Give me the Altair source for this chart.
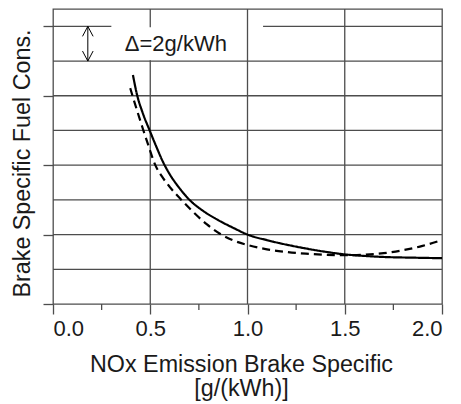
import altair as alt
import pandas as pd

# NOx emission (g/kWh) against brake specific fuel consumption (g/kWh, offset scale)
solid_nox = [0.411, 0.43, 0.46, 0.497, 0.53, 0.565, 0.6, 0.65, 0.7, 0.77, 0.85, 0.93, 1.0,
             1.1, 1.2, 1.3, 1.4, 1.5, 1.6, 1.7, 1.85, 2.0]
solid_bsfc = [13.2, 12.15, 11.05, 10.0, 9.1, 8.2, 7.48, 6.68, 6.02, 5.38, 4.83, 4.37, 4.0,
              3.68, 3.42, 3.2, 3.01, 2.86, 2.77, 2.71, 2.67, 2.64]
dashed_nox = [0.397, 0.41, 0.435, 0.462, 0.49, 0.526, 0.56, 0.6, 0.66, 0.72, 0.79, 0.866, 0.93,
              1.0, 1.1, 1.2, 1.3, 1.4, 1.5, 1.6, 1.7, 1.8, 1.9, 2.0]
dashed_bsfc = [12.44, 11.95, 11.05, 10.1, 9.15, 8.0, 7.35, 6.75, 6.0, 5.31, 4.6, 4.0, 3.65,
               3.4, 3.15, 3.0, 2.9, 2.84, 2.81, 2.84, 2.93, 3.1, 3.35, 3.68]

# grid segments (x from, x to, y from, y to), broken around the annotation
grid_x0 = [0, 0, 0, 0, 0, 0, 0, 0, 1.08, 0.5, 0.5, 1.0, 1.5]
grid_x1 = [2, 2, 2, 2, 2, 2, 2, 0.30, 2, 0.5, 0.5, 1.0, 1.5]
grid_y0 = [2, 4, 6, 8, 10, 12, 14, 16, 16, 0, 15.95, 0, 0]
grid_y1 = [2, 4, 6, 8, 10, 12, 14, 16, 16, 14.05, 17, 17, 17]

x_major = [0.0, 0.5, 1.0, 1.5, 2.0]
x_minor = [0.25, 0.75, 1.25, 1.75]
y_ticks = list(range(0, 17))

# the 2 g/kWh scale bar
bar_x = 0.179
bar_lo, bar_hi = 14, 16
bar_label = "\u0394=2g/kWh"
label_x, label_y = 0.369, 15.0

FONT = "Liberation Sans"
GRID = "#4d4d4d"
INK = "#1a1a1a"
W, H = 389, 295

xs = alt.Scale(domain=[0, 2], nice=False, zero=False)
ys = alt.Scale(domain=[0, 17], nice=False, zero=False)

curves = pd.DataFrame(
    {"nox": solid_nox + dashed_nox,
     "bsfc": solid_bsfc + dashed_bsfc,
     "case": ["solid"] * len(solid_nox) + ["dashed"] * len(dashed_nox)}
)
grid = pd.DataFrame({"x0": grid_x0, "x1": grid_x1, "y0": grid_y0, "y1": grid_y1})

x_axis = alt.Axis(
    values=x_major, format=".1f", grid=False, domain=False,
    tickSize=10, tickColor=GRID, tickWidth=1.3,
    labelFont=FONT, labelFontSize=22, labelColor=INK,
    labelBaseline="alphabetic", labelPadding=21,
    title=["NOx Emission Brake Specific", "[g/(kWh)]"],
    titleFont=FONT, titleFontSize=23.3, titleFontWeight="normal", titleColor=INK,
    titleBaseline="alphabetic", titleX=188, titleY=67.5, titleAlign="center",
    titleLineHeight=24,
)
y_axis = alt.Axis(
    values=y_ticks, labels=False, grid=False, domain=False,
    tickSize=10, tickColor=GRID, tickWidth=1.3,
    title="Brake Specific Fuel Cons.",
    titleFont=FONT, titleFontSize=23.3, titleFontWeight="normal", titleColor=INK,
    titleBaseline="alphabetic", titleX=-24, titleY=154, titleAlign="center",
    titleAngle=270,
)

gridlines = alt.Chart(grid).mark_rule(color=GRID, strokeWidth=1.3).encode(
    x=alt.X("x0:Q", scale=xs, axis=x_axis),
    x2="x1:Q",
    y=alt.Y("y0:Q", scale=ys, axis=y_axis),
    y2="y1:Q",
)

minor = alt.Chart(pd.DataFrame({"x": x_minor})).mark_rule(color=GRID, strokeWidth=1.3).encode(
    x=alt.X("x:Q", scale=xs),
    y=alt.value(H),
    y2=alt.value(H + 6),
)

lines = alt.Chart(curves).mark_line(color="black", strokeWidth=2.2, interpolate="monotone").encode(
    x=alt.X("nox:Q", scale=xs),
    y=alt.Y("bsfc:Q", scale=ys),
    strokeDash=alt.StrokeDash(
        "case:N",
        scale=alt.Scale(domain=["solid", "dashed"], range=[[1, 0], [8, 5]]),
        legend=None,
    ),
    detail="case:N",
)

bar_df = pd.DataFrame({"x": [bar_x], "lo": [bar_lo], "hi": [bar_hi]})
shaft = alt.Chart(bar_df).mark_rule(color="black", strokeWidth=1).encode(
    x=alt.X("x:Q", scale=xs), y=alt.Y("lo:Q", scale=ys), y2="hi:Q"
)
head_up = alt.Chart(bar_df).mark_point(
    shape="M-0.53,1L0,0L0.53,1", filled=False, color="black", strokeWidth=1, size=400, opacity=1
).encode(x=alt.X("x:Q", scale=xs), y=alt.Y("hi:Q", scale=ys))
head_down = alt.Chart(bar_df).mark_point(
    shape="M-0.53,-1L0,0L0.53,-1", filled=False, color="black", strokeWidth=1, size=400, opacity=1
).encode(x=alt.X("x:Q", scale=xs), y=alt.Y("lo:Q", scale=ys))

label = alt.Chart(pd.DataFrame({"x": [label_x], "y": [label_y], "t": [bar_label]})).mark_text(
    align="left", baseline="middle", font=FONT, fontSize=22, color=INK
).encode(x=alt.X("x:Q", scale=xs), y=alt.Y("y:Q", scale=ys), text="t:N")

chart = (
    alt.layer(gridlines, minor, lines, shaft, head_up, head_down, label)
    .properties(
        width=W, height=H,
        autosize=alt.AutoSizeParams(type="none"),
        padding={"left": 53, "top": 9, "right": 19, "bottom": 100},
        background="white",
    )
    .configure_view(stroke=GRID, strokeWidth=1.3)
)

chart.save("out.html", embed_options={"renderer": "svg", "actions": False})
